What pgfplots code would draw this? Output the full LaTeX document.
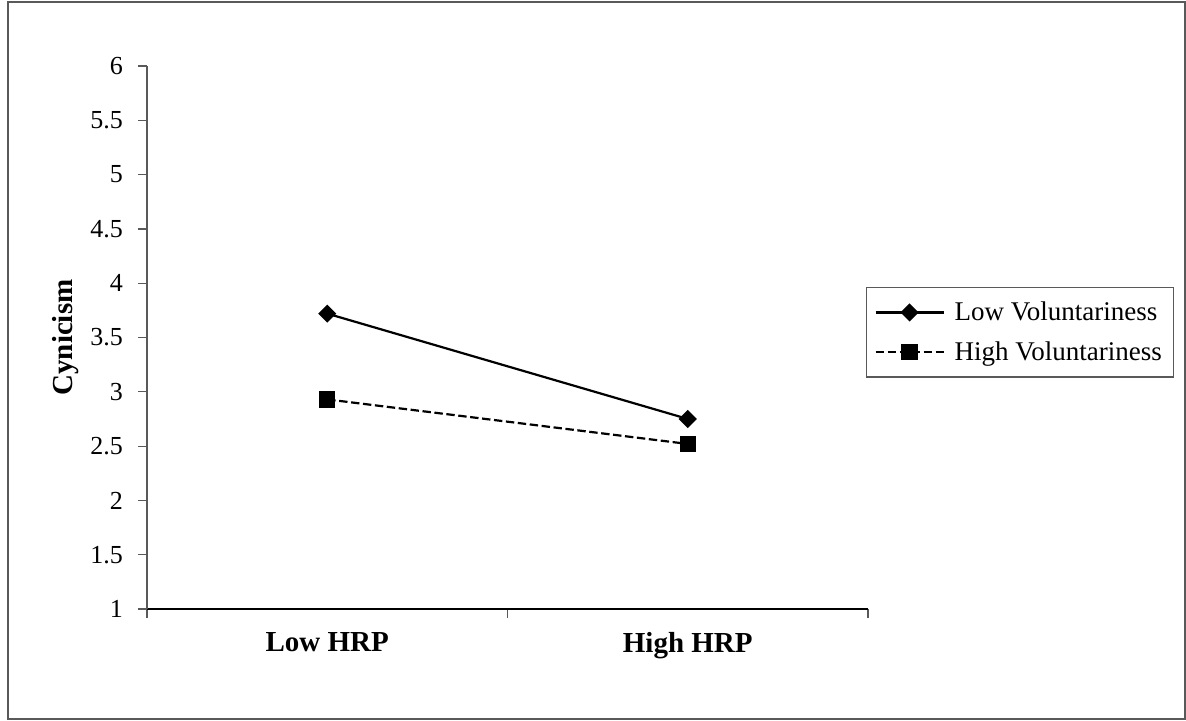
\documentclass[border=0pt]{standalone}
\usepackage{fontspec}
\setmainfont{Liberation Serif}
\usepackage{pgfplots}
\pgfplotsset{compat=1.18}
\begin{document}
\begin{tikzpicture}
\useasboundingbox (0,0) rectangle (593pt,360pt);
\draw[gray!70!black, line width=0.6pt] (4pt,0.5pt) rectangle (592.5pt,359pt);
\begin{axis}[
  at={(73.5pt,55.5pt)}, anchor=south west,
  scale only axis, width=360.5pt, height=271.5pt,
  xmin=0, xmax=2, ymin=1, ymax=6,
  axis x line*=bottom, axis y line*=left,
  x axis line style={-, black, line width=0.6pt},
  y axis line style={-, gray!70!black, line width=0.6pt},
  xtick={0,1,2}, xticklabels={},
  extra x ticks={0.5,1.5}, extra x tick labels={Low HRP, High HRP},
  extra x tick style={major tick length=0pt, tick label style={font=\bfseries\fontsize{14.5}{16}\selectfont, yshift=-8pt}},
  ytick={1,1.5,2,2.5,3,3.5,4,4.5,5,5.5,6},
  tick align=outside, major tick length=4.5pt,
  tick style={gray!70!black, line width=0.6pt},
  yticklabel style={font=\fontsize{13}{15}\selectfont, xshift=-4pt},
  /pgf/number format/assume math mode=true,
  ylabel={Cynicism},
  ylabel style={font=\bfseries\fontsize{14.5}{16}\selectfont, at={(axis description cs:-0.104,0.5)}, anchor=base},
  legend style={draw=gray!70!black, line width=0.6pt, at={(axis description cs:0.997,0.593)}, anchor=north west,
    font=\fontsize{13.5}{15}\selectfont, inner xsep=4pt, inner ysep=5pt, row sep=5pt, column sep=3pt, cells={anchor=west}},
  legend image code/.code={\draw[mark repeat=2,mark phase=2,#1] plot coordinates {(0pt,0pt) (17pt,0pt) (34pt,0pt)};},
]
\addplot[black, line width=1.1pt, mark=square*, mark size=2.65pt, mark options={rotate=45, solid}] coordinates {(0.5,3.72) (1.5,2.75)};
\addlegendentry{Low Voluntariness}
\addplot[black, line width=1.1pt, dash pattern=on 4.2pt off 1.8pt, mark=square*, mark size=3.5pt, mark options={solid}] coordinates {(0.5,2.93) (1.5,2.52)};
\addlegendentry{High Voluntariness}
\end{axis}
\end{tikzpicture}
\end{document}
